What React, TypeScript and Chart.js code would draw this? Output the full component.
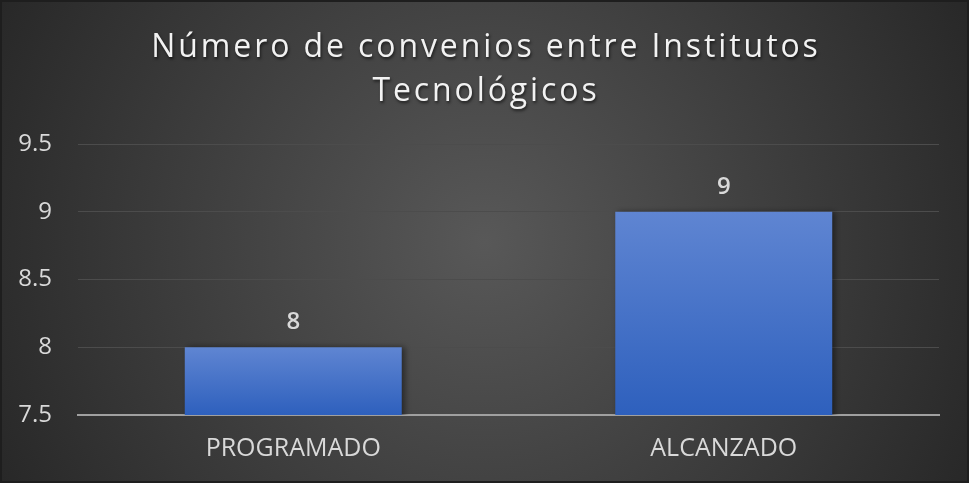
import React, { useEffect, useRef } from "react";
import { Chart, registerables } from "chart.js";

Chart.register(...registerables);

const categories = ["PROGRAMADO", "ALCANZADO"];
const values = [8, 9];
const titleLines = ["Número de convenios entre Institutos", "Tecnológicos"];
const yMin = 7.5;
const yMax = 9.5;
const yStep = 0.5;

const bgPlugin = {
  id: "bgPlugin",
  beforeDraw(chart: any) {
    const { ctx, width, height } = chart;
    ctx.save();
    const g = ctx.createRadialGradient(width / 2, height / 2, 0, width / 2, height / 2, width * 0.58);
    g.addColorStop(0, "#585858");
    g.addColorStop(1, "#262626");
    ctx.fillStyle = g;
    ctx.fillRect(0, 0, width, height);
    ctx.strokeStyle = "#1e1e1e";
    ctx.lineWidth = 2;
    ctx.strokeRect(1, 1, width - 2, height - 2);
    ctx.restore();
  },
  beforeDatasetsDraw(chart: any) {
    const ctx = chart.ctx;
    ctx.save();
    ctx.shadowColor = "rgba(0,0,0,0.45)";
    ctx.shadowBlur = 6;
    ctx.shadowOffsetX = 3;
    ctx.shadowOffsetY = 0;
  },
  afterDatasetsDraw(chart: any) {
    const ctx = chart.ctx;
    ctx.restore();
    ctx.save();
    const meta = chart.getDatasetMeta(0);
    ctx.font = "600 24px 'Open Sans'";
    ctx.fillStyle = "#d9d9d9";
    ctx.textAlign = "center";
    ctx.textBaseline = "middle";
    meta.data.forEach((bar: any, i: number) => {
      ctx.fillText(String(values[i]), bar.x, bar.y - 25);
    });
    ctx.restore();
  },
  afterDraw(chart: any) {
    const { ctx, width } = chart;
    ctx.save();
    ctx.font = "400 32px 'Open Sans'";
    (ctx as any).letterSpacing = "2.9px";
    ctx.fillStyle = "#f2f2f2";
    ctx.textAlign = "center";
    ctx.textBaseline = "middle";
    ctx.shadowColor = "rgba(0,0,0,0.6)";
    ctx.shadowBlur = 3;
    ctx.shadowOffsetX = 1;
    ctx.shadowOffsetY = 2;
    ctx.fillText(titleLines[0], width / 2 + 1.5, 48);
    ctx.fillText(titleLines[1], width / 2 + 1.5, 92);
    ctx.restore();
  },
};

export default function App() {
  const ref = useRef<HTMLCanvasElement | null>(null);
  useEffect(() => {
    document.body.style.margin = "0";
    const canvas = ref.current!;
    const chart = new Chart(canvas, {
      type: "bar",
      data: {
        labels: categories,
        datasets: [
          {
            data: values,
            backgroundColor: (c: any) => {
              const ch = c.chart;
              const y = ch.scales?.y;
              if (!y || c.dataIndex === undefined) return "#4472c4";
              const top = y.getPixelForValue(values[c.dataIndex]);
              const bottom = y.getPixelForValue(yMin);
              if (!isFinite(top) || !isFinite(bottom) || top === bottom) return "#4472c4";
              const g = ch.ctx.createLinearGradient(0, top, 0, bottom);
              g.addColorStop(0, "#5f85d2");
              g.addColorStop(1, "#2e60bd");
              return g;
            },
            borderWidth: 0,
            categoryPercentage: 1,
            barPercentage: 0.504,
          },
        ],
      },
      options: {
        responsive: false,
        animation: false,
        layout: { padding: { top: 144, left: 0, right: 30, bottom: 0 } },
        plugins: {
          legend: { display: false },
          title: { display: false },
          tooltip: { enabled: false },
        },
        scales: {
          x: {
            grid: { display: false, drawTicks: false },
            border: { display: true, color: "#a0a0a0", width: 2 },
            ticks: {
              color: "#d9d9d9",
              font: { family: "'Open Sans'", size: 25 },
              padding: 19,
            },
            afterFit: (s: any) => {
              s.height = 68;
            },
          },
          y: {
            min: yMin,
            max: yMax,
            grid: { color: "#4c4c4c", lineWidth: 1, drawTicks: false },
            border: { display: false },
            ticks: {
              stepSize: yStep,
              color: "#d9d9d9",
              font: { family: "'Open Sans'", size: 24 },
              padding: 26,
              callback: (v: any) => String(v),
            },
            afterFit: (s: any) => {
              s.width = 78;
            },
          },
        },
      },
      plugins: [bgPlugin],
    });
    return () => chart.destroy();
  }, []);
  return <canvas ref={ref} width={969} height={483} style={{ display: "block" }} />;
}
